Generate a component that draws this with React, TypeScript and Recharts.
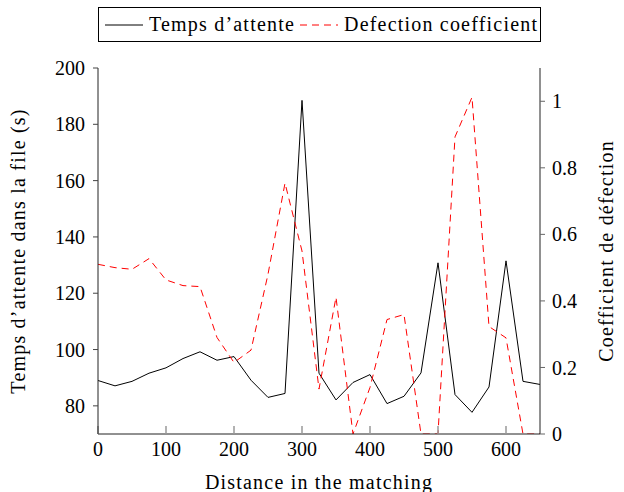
import React from 'react';
import { LineChart, Line, XAxis, YAxis } from 'recharts';

const distances = [0, 25, 50, 75, 100, 125, 150, 175, 200, 225, 250, 275, 300, 325, 350, 375, 400, 425, 450, 475, 500, 525, 550, 575, 600, 625, 650];
const waitTimes = [89.0, 87.1, 88.7, 91.6, 93.5, 96.8, 99.2, 96.2, 97.5, 89.1, 83.0, 84.4, 188.5, 91.6, 82.1, 88.3, 91.1, 80.8, 83.4, 91.7, 130.8, 84.0, 77.7, 86.7, 131.5, 88.7, 87.6];
const defection = [0.51, 0.5, 0.495, 0.527, 0.463, 0.446, 0.443, 0.29, 0.215, 0.252, 0.48, 0.754, 0.55, 0.135, 0.411, 0, 0.14, 0.344, 0.359, 0, 0, 0.893, 1.012, 0.323, 0.289, 0, 0];

const xTicks = [0, 100, 200, 300, 400, 500, 600];
const leftTicks = [80, 100, 120, 140, 160, 180, 200];
const rightTicks = [0, 0.2, 0.4, 0.6, 0.8, 1];

const series = [
  { key: 'wait', name: 'Temps d\u2019attente', color: '#000000', dash: undefined as string | undefined },
  { key: 'def', name: 'Defection coefficient', color: '#ff0000', dash: '7 5' },
];

const data = distances.map((d, i) => ({ d, wait: waitTimes[i], def: defection[i] }));

const FONT = "'Liberation Serif', 'DejaVu Serif', serif";
const tickStyle = { fill: '#000', fontSize: 20, fontFamily: FONT };
const titleStyle = { fill: '#000', fontSize: 20, fontFamily: FONT, letterSpacing: '1.2px' };

const Arrows = (props: any) => {
  const vb = props.viewBox || {};
  const x = vb.x ?? 0;
  const y = vb.y ?? 0;
  const w = vb.width ?? 0;
  const head = (cx: number) => (
    <path
      d={`M ${cx - 3.5} ${y + 6} Q ${cx - 1} ${y + 2.5} ${cx} ${y + 0.5} Q ${cx + 1} ${y + 2.5} ${cx + 3.5} ${y + 6}`}
      fill="none"
      stroke="#000"
      strokeWidth={1}
    />
  );
  return (
    <g>
      {head(x)}
      {head(x + w)}
    </g>
  );
};

const LegendBox = () => (
  <div
    style={{
      position: 'absolute',
      left: 98,
      top: 7,
      width: 441,
      height: 33,
      border: '1px solid #000',
      display: 'flex',
      alignItems: 'center',
      fontFamily: FONT,
      fontSize: 20,
      letterSpacing: '1.2px',
      color: '#000',
      boxSizing: 'content-box',
      whiteSpace: 'nowrap',
    }}
  >
    {series.map((s, i) => (
      <div key={s.key} style={{ display: 'flex', alignItems: 'center', marginLeft: i === 0 ? 6 : 5 }}>
        <svg width={38} height={10} style={{ marginRight: 6 }}>
          <line x1={0} y1={5} x2={38} y2={5} stroke={s.color} strokeWidth={1} strokeDasharray={s.dash} />
        </svg>
        <span>{s.name}</span>
      </div>
    ))}
  </div>
);

export default function App() {
  return (
    <div style={{ position: 'absolute', left: 0, top: 0, width: 624, height: 492, background: '#fff' }}>
      <LineChart width={624} height={492} data={data} margin={{ top: 68, right: 0, bottom: 0, left: 0 }}>
        <XAxis
          xAxisId="b"
          dataKey="d"
          type="number"
          domain={[0, 650]}
          ticks={xTicks}
          allowDataOverflow
          height={58}
          axisLine={{ stroke: '#222', strokeWidth: 1 }}
          tickLine={{ stroke: '#999', strokeWidth: 1.5 }}
          tickSize={-8}
          tickMargin={16}
          tick={tickStyle}
          label={{ value: 'Distance in the matching', position: 'insideBottom', offset: 3, style: titleStyle }}
        />
        <XAxis
          xAxisId="t"
          dataKey="d"
          type="number"
          orientation="top"
          domain={[0, 650]}
          ticks={xTicks}
          allowDataOverflow
          height={0}
          axisLine={{ stroke: '#222', strokeWidth: 1 }}
          tickLine={{ stroke: '#999', strokeWidth: 1.5 }}
          tickSize={-8}
          tickFormatter={() => ''}
          label={{ content: (p: any) => <Arrows {...p} /> }}
        />
        <YAxis
          yAxisId="left"
          orientation="left"
          type="number"
          domain={[70, 200]}
          ticks={leftTicks}
          allowDataOverflow
          width={98}
          axisLine={{ stroke: '#222', strokeWidth: 1 }}
          tickLine={{ stroke: '#444', strokeWidth: 1 }}
          tickSize={5}
          tickMargin={8}
          tick={tickStyle}
          label={{ value: 'Temps d\u2019attente dans la file (s)', angle: -90, position: 'center', dx: -31, style: titleStyle }}
        />
        <YAxis
          yAxisId="right"
          orientation="right"
          type="number"
          domain={[0, 1.1]}
          ticks={rightTicks}
          allowDataOverflow
          width={84}
          axisLine={{ stroke: '#222', strokeWidth: 1 }}
          tickLine={{ stroke: '#666', strokeWidth: 1 }}
          tickSize={5}
          tickMargin={7}
          tick={tickStyle}
          tickFormatter={(v: number) => (v === 0 ? '0' : v === 1 ? '1' : v.toFixed(1))}
          label={{ value: 'Coefficient de d\u00e9fection', angle: -90, position: 'center', dx: 24, style: titleStyle }}
        />
        <YAxis
          yAxisId="right2"
          orientation="right"
          type="number"
          domain={[0, 1.1]}
          ticks={rightTicks}
          allowDataOverflow
          mirror
          width={0}
          axisLine={false}
          tickLine={{ stroke: '#666', strokeWidth: 1 }}
          tickSize={5}
          tickFormatter={() => ''}
        />
        {series.map((s) => (
          <Line
            key={s.key}
            xAxisId="b"
            yAxisId={s.key === 'wait' ? 'left' : 'right'}
            dataKey={s.key}
            name={s.name}
            stroke={s.color}
            strokeWidth={1}
            strokeDasharray={s.dash}
            dot={false}
            activeDot={false}
            isAnimationActive={false}
          />
        ))}
      </LineChart>
      <LegendBox />
    </div>
  );
}
